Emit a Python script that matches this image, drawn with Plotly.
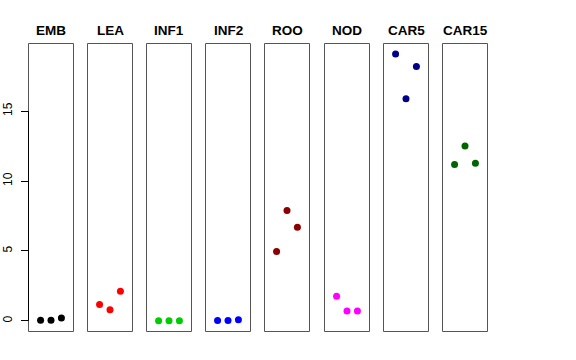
import plotly.graph_objects as go

categories = ["EMB", "LEA", "INF1", "INF2", "ROO", "NOD", "CAR5", "CAR15"]
colors = ["#000000", "#FF0000", "#00CD00", "#0000FF", "#8B0000", "#FF00FF", "#00008B", "#006400"]
replicate = [1, 2, 3]
values = {
    "EMB": [0.05, 0.05, 0.20],
    "LEA": [1.17, 0.79, 2.12],
    "INF1": [0.01, 0.01, 0.01],
    "INF2": [0.02, 0.02, 0.08],
    "ROO": [4.96, 7.90, 6.70],
    "NOD": [1.76, 0.71, 0.71],
    "CAR5": [19.08, 15.89, 18.20],
    "CAR15": [11.19, 12.50, 11.28],
}
y_ticks = [0, 5, 10, 15]

W, H = 576, 360
panel_left_px = [28.5, 87.5, 146.5, 205.5, 264.5, 324.5, 383.5, 442.5]
pw = 45.0
top_px, bot_px = 43.5, 331.5
ymin, ymax = -0.763, 19.84

fig = go.Figure()
layout = dict(
    width=W, height=H,
    margin=dict(l=0, r=0, t=0, b=0, autoexpand=False),
    paper_bgcolor="white", plot_bgcolor="white",
    showlegend=False,
    font=dict(family="Liberation Sans, Arial, sans-serif", color="black"),
)
annotations = []
shapes = []
for i, cat in enumerate(categories):
    n = "" if i == 0 else str(i + 1)
    x0 = panel_left_px[i] / W
    x1 = (panel_left_px[i] + pw) / W
    y0 = 1 - bot_px / H
    y1 = 1 - top_px / H
    fig.add_trace(go.Scatter(
        x=replicate, y=values[cat], mode="markers",
        marker=dict(color=colors[i], size=7, line=dict(width=0)),
        xaxis="x" + n, yaxis="y" + n, hoverinfo="skip",
    ))
    layout["xaxis" + n] = dict(
        domain=[x0, x1], range=[-0.16, 4.16], anchor="y" + n,
        showgrid=False, zeroline=False, showticklabels=False, ticks="",
        showline=False,
    )
    ya = dict(
        domain=[y0, y1], range=[ymin, ymax], anchor="x" + n,
        showgrid=False, zeroline=False, showline=False,
    )
    if i == 0:
        ya.update(tickvals=y_ticks, ticktext=[str(t) for t in y_ticks],
                  ticks="outside", ticklen=7, tickcolor="black", tickwidth=1,
                  tickangle=-90, tickfont=dict(size=12, color="black"),
                  ticklabelstandoff=4)
    else:
        ya.update(showticklabels=False, ticks="")
    layout["yaxis" + n] = ya
    shapes.append(dict(type="rect", xref="paper", yref="paper",
                       x0=x0, x1=x1, y0=y0, y1=y1,
                       line=dict(color="#555555", width=1), layer="above"))
    annotations.append(dict(
        text="<b>" + cat + "</b>", x=(x0 + x1) / 2, y=1 - 30 / H,
        xref="paper", yref="paper", xanchor="center", yanchor="middle",
        showarrow=False, font=dict(size=13.5, color="black"),
    ))

shapes.append(dict(type="line", xref="paper", yref="y",
                   x0=panel_left_px[0] / W, x1=panel_left_px[0] / W,
                   y0=y_ticks[0], y1=y_ticks[-1],
                   line=dict(color="black", width=1), layer="above"))
layout["annotations"] = annotations
layout["shapes"] = shapes
fig.update_layout(**layout)
fig.write_html("out.html", config={"displayModeBar": False},
               post_script="document.body.style.margin='0';document.body.style.overflow='hidden';")
